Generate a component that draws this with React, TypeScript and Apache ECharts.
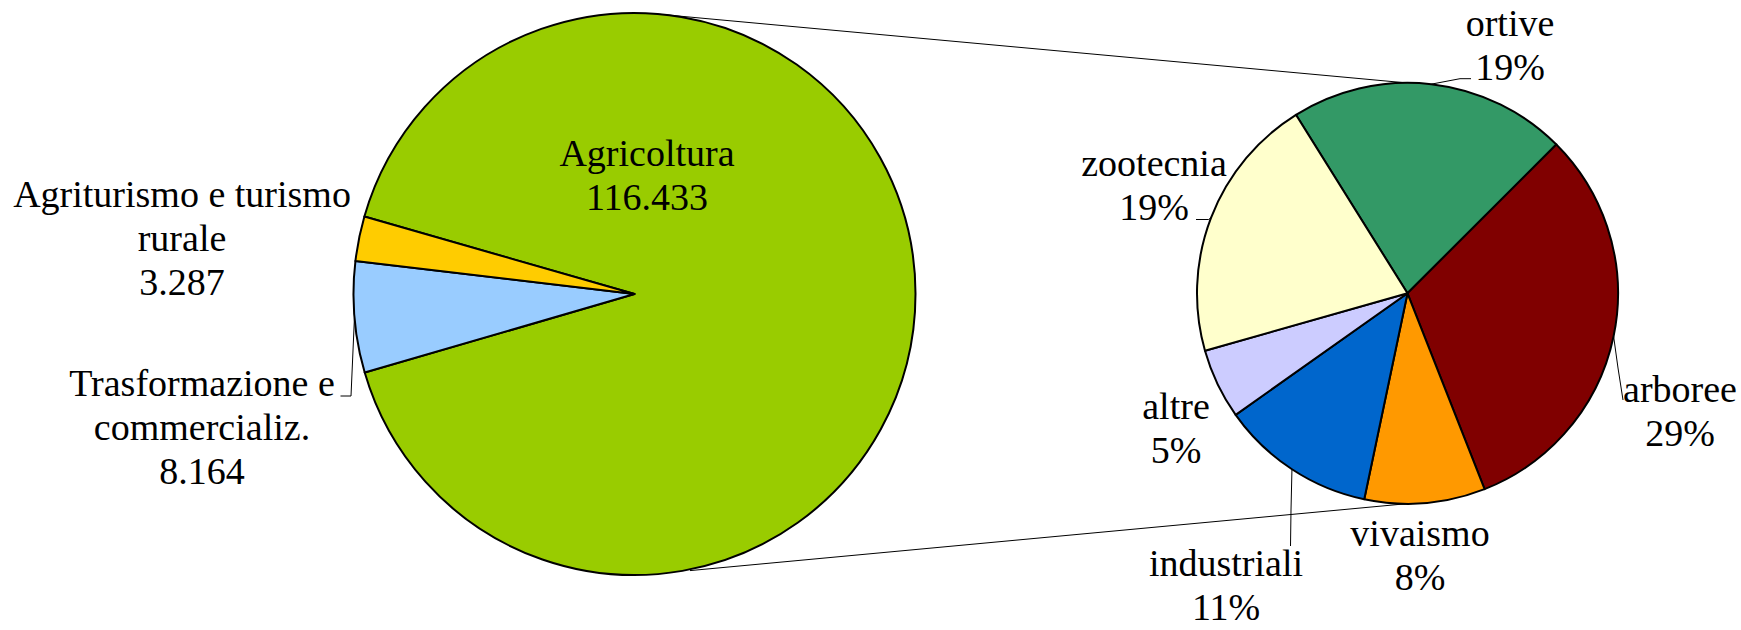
import React, { useEffect, useRef } from "react";
import * as echarts from "echarts";

// ---- Data ----
const mainCategories = ["Agricoltura", "Trasformazione e\ncommercializ.", "Agriturismo e turismo\nrurale"];
const mainValues = [116433, 8164, 3287];
const mainColors = ["#99CC00", "#99CCFF", "#FFCC00"];

const subCategories = ["ortive", "arboree", "vivaismo", "industriali", "altre", "zootecnia"];
// share of the grand total (%), split of "Agricoltura"
const subValues = [19.4, 28.6, 8.4, 10.8, 4.9, 18.6];
const subColors = ["#339966", "#800000", "#FF9900", "#0066CC", "#CCCCFF", "#FFFFCC"];

// ---- Layout ----
const W = 1741;
const H = 630;
const MAIN_C = [634.5, 294];
const MAIN_R = 281;
const SUB_C = [1407.5, 293.3];
const SUB_R = 210.5;

const mainLabelPos = [[647, 174.6], [202, 427], [182, 238]];
const mainLeaders: (number[][] | null)[] = [null, [[351, 396], [340.5, 396]], null];

const subLabelPos = [[1510, 44.8], [1680, 410.7], [1420, 555.3], [1226, 585], [1176, 427.8], [1154, 185.3]];
const subLeaders: (number[][] | null)[] = [
  [[1460, 78.7], [1471, 78.7]],
  [[1618, 368], [1623, 400]],
  null,
  [[1291, 510], [1290.5, 546]],
  null,
  [[1208.7, 219.5], [1196, 219.5]],
];

const FONT = "Liberation Serif";

function fmtIt(v: number): string {
  const s = String(Math.round(v));
  return s.replace(/\B(?=(\d{3})+(?!\d))/g, ".");
}

function makeLayout(pos: number[][], leaders: (number[][] | null)[]) {
  return (p: any) => {
    const i = p.dataIndex;
    const res: any = { x: pos[i][0], y: pos[i][1], align: "center", verticalAlign: "middle" };
    const lead = leaders[i];
    if (lead && p.labelLinePoints && p.labelLinePoints.length) {
      res.labelLinePoints = [p.labelLinePoints[0], ...lead];
    }
    return res;
  };
}

export default function App() {
  const ref = useRef<HTMLDivElement>(null);

  useEffect(() => {
    if (!ref.current) return;
    const chart = echarts.init(ref.current, undefined, { renderer: "svg" });

    const labelText = {
      color: "#000",
      fontFamily: FONT,
      fontSize: 38,
      lineHeight: 44,
    };

    const mainData = mainCategories.map((name, i) => ({
      name,
      value: mainValues[i],
      itemStyle: { color: mainColors[i] },
      label: { position: i === 0 ? "inside" : "outside" },
      labelLine: { show: !!mainLeaders[i] },
    }));

    const subData = subCategories.map((name, i) => ({
      name,
      value: subValues[i],
      itemStyle: { color: subColors[i] },
      labelLine: { show: !!subLeaders[i] },
    }));

    const option: any = {
      animation: false,
      backgroundColor: "#fff",
      textStyle: { fontFamily: FONT },
      graphic: [
        {
          type: "line",
          shape: { x1: 652, y1: 13.6, x2: SUB_C[0] - 2, y2: SUB_C[1] - SUB_R },
          style: { stroke: "#000", lineWidth: 1 },
          z: 0,
        },
        {
          type: "line",
          shape: { x1: 690, y1: 570.6, x2: SUB_C[0] - 2, y2: SUB_C[1] + SUB_R },
          style: { stroke: "#000", lineWidth: 1 },
          z: 0,
        },
      ],
      series: [
        {
          type: "pie",
          center: MAIN_C,
          radius: MAIN_R,
          startAngle: 164,
          clockwise: true,
          avoidLabelOverlap: false,
          itemStyle: { borderColor: "#000", borderWidth: 2 },
          emphasis: { disabled: true },
          label: {
            show: true,
            ...labelText,
            formatter: (p: any) => `${p.name}\n${fmtIt(p.value)}`,
          },
          labelLine: { show: true, lineStyle: { color: "#000", width: 1 } },
          labelLayout: makeLayout(mainLabelPos, mainLeaders),
          data: mainData,
          z: 2,
        },
        {
          type: "pie",
          center: SUB_C,
          radius: SUB_R,
          startAngle: 122,
          clockwise: true,
          avoidLabelOverlap: false,
          itemStyle: { borderColor: "#000", borderWidth: 2 },
          emphasis: { disabled: true },
          label: {
            show: true,
            position: "outside",
            ...labelText,
            formatter: (p: any) => `${p.name}\n${Math.round(p.value)}%`,
          },
          labelLine: { show: true, lineStyle: { color: "#000", width: 1 } },
          labelLayout: makeLayout(subLabelPos, subLeaders),
          data: subData,
          z: 2,
        },
      ],
    };

    chart.setOption(option);
    return () => chart.dispose();
  }, []);

  return (
    <div
      ref={ref}
      style={{ position: "absolute", left: 0, top: 0, width: W, height: H, background: "#fff" }}
    />
  );
}
